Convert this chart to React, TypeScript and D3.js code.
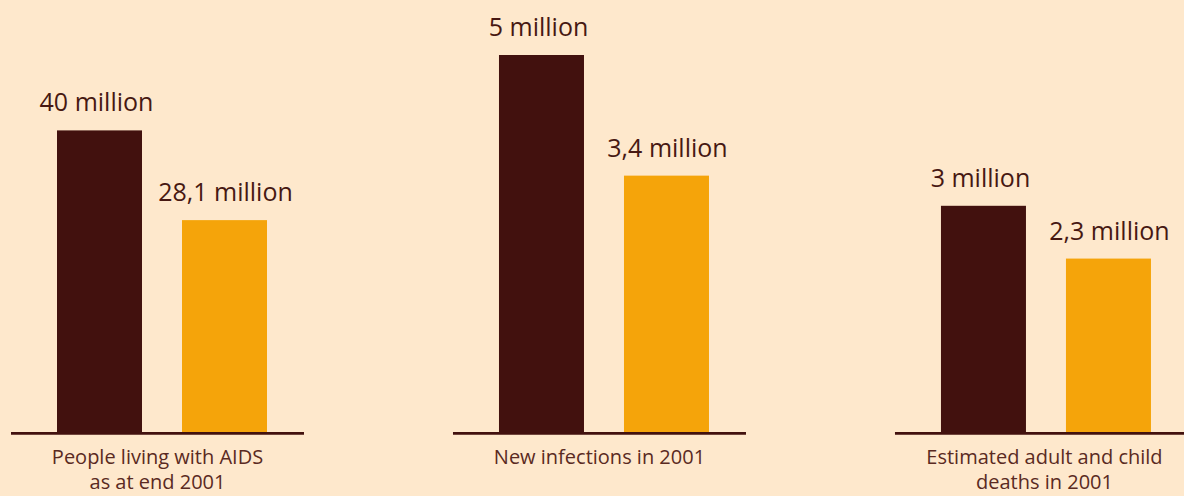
import React from "react";
import * as d3 from "d3";

const categories: string[][] = [
  ["People living with AIDS", "as at end 2001"],
  ["New infections in 2001"],
  ["Estimated adult and child", "deaths in 2001"],
];
const seriesKeys = ["total", "subSaharan"];
const totalValues = [40, 5, 3];
const secondValues = [28.1, 3.4, 2.3];
const panelScaleMax = [50, 5, 5];
const unitLabel = "million";

const W = 1184;
const H = 496;
const BASE = 432;
const TOP = 55;
const PANEL_W = 293;

const colors = { bg: "#FEE8CC", dark: "#42110E", orange: "#F5A40A", text: "#471812", cat: "#5A2A22" };

const fmt = (v: number) => `${String(v).replace(".", ",")} ${unitLabel}`;

export default function App() {
  const panelX = d3
    .scaleBand<number>()
    .domain(categories.map((_, i) => i))
    .range([11, 1188])
    .paddingInner(0.337)
    .paddingOuter(0);
  const barX = d3.scaleBand<string>().domain(seriesKeys).range([46, 256]).paddingInner(0.32);

  return (
    <svg
      width={W}
      height={H}
      style={{ position: "absolute", left: 0, top: 0, display: "block" }}
    >
      <rect x={0} y={0} width={W} height={H} fill={colors.bg} />
      {categories.map((cat, i) => {
        const x0 = panelX(i)!;
        const y = d3.scaleLinear().domain([0, panelScaleMax[i]]).range([BASE, TOP]);
        const vals = [totalValues[i], secondValues[i]];
        return (
          <g key={i} transform={`translate(${x0},0)`}>
            {vals.map((v, j) => {
              const bx = barX(seriesKeys[j])!;
              const bw = barX.bandwidth();
              return (
                <g key={j}>
                  <rect
                    x={bx}
                    y={y(v)}
                    width={bw}
                    height={BASE - y(v)}
                    fill={j === 0 ? colors.dark : colors.orange}
                  />
                  <text
                    x={bx + bw / 2 + (j === 0 ? -3 : 1)}
                    y={y(v) - 19}
                    textAnchor="middle"
                    fontFamily="'Open Sans', sans-serif"
                    fontSize={25}
                    fill={colors.text}
                  >
                    {fmt(v)}
                  </text>
                </g>
              );
            })}
            <line x1={0} x2={PANEL_W} y1={433.4} y2={433.4} stroke={colors.dark} strokeWidth={2.8} />
            {cat.map((line, k) => (
              <text
                key={k}
                x={PANEL_W / 2 + (i === 2 ? 3 : 0)}
                y={464 + k * 25}
                textAnchor="middle"
                fontFamily="'Open Sans', sans-serif"
                fontSize={20}
                fill={colors.cat}
              >
                {line}
              </text>
            ))}
          </g>
        );
      })}
    </svg>
  );
}
